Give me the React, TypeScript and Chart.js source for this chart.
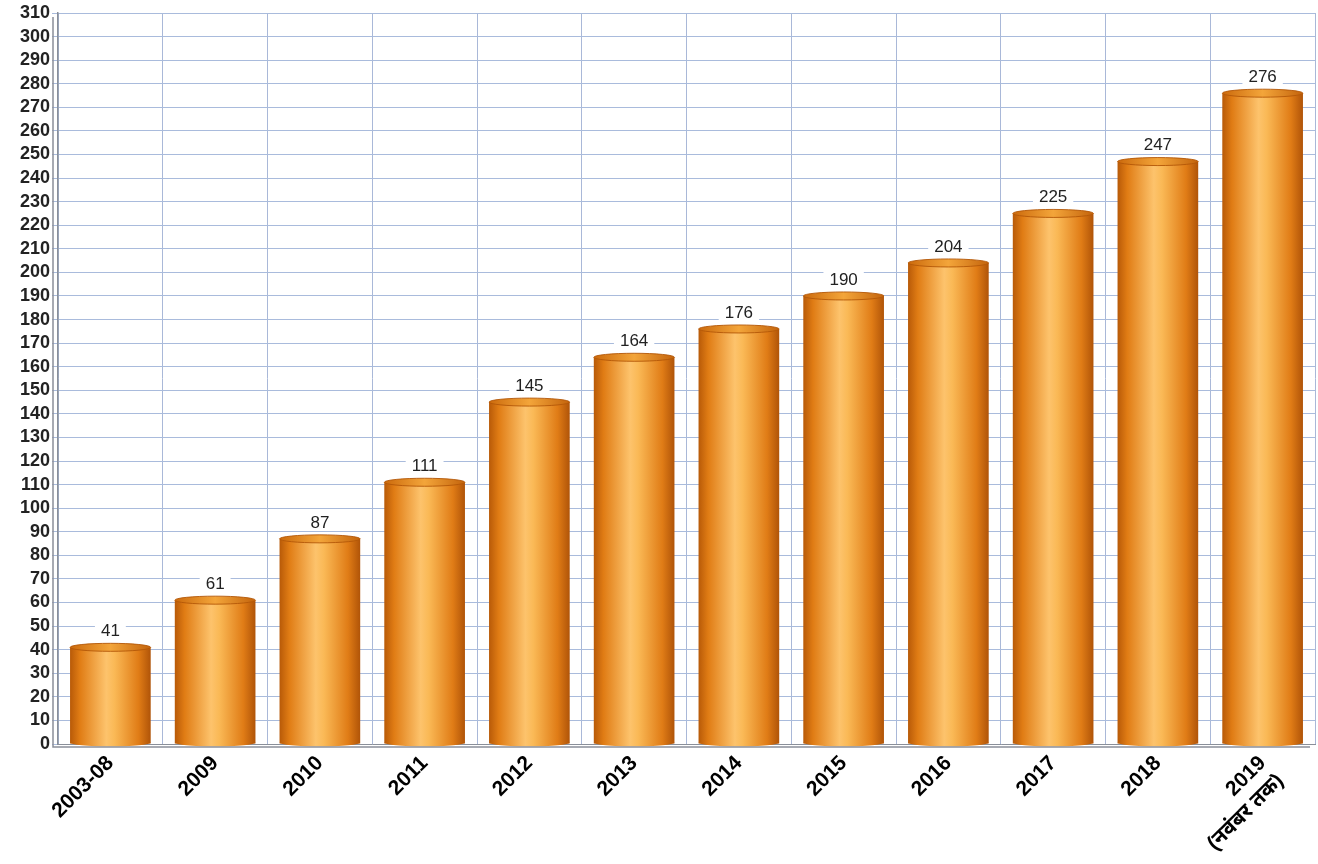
import React, { useEffect, useRef } from "react";
import { Chart, registerables } from "chart.js";

Chart.register(...registerables);

const categories: (string | string[])[] = [
  "2003-08", "2009", "2010", "2011", "2012", "2013", "2014", "2015", "2016", "2017", "2018", ["2019", "(नवंबर तक)"],
];
const values: number[] = [41, 61, 87, 111, 145, 164, 176, 190, 204, 225, 247, 276];
const yMax = 310;
const yStep = 10;

const FONT = "'Liberation Sans', Arial, 'Noto Sans', sans-serif";

function bodyGradient(ctx: CanvasRenderingContext2D, x0: number, w: number) {
  const g = ctx.createLinearGradient(x0, 0, x0 + w, 0);
  g.addColorStop(0, "#b85a08");
  g.addColorStop(0.12, "#e07c14");
  g.addColorStop(0.45, "#fdc36c");
  g.addColorStop(0.55, "#fab956");
  g.addColorStop(0.85, "#e07c16");
  g.addColorStop(1, "#b05408");
  return g;
}

const cylinderPlugin = {
  id: "cylinder",
  beforeDraw(chart: any) {
    const ctx = chart.ctx as CanvasRenderingContext2D;
    ctx.save();
    ctx.fillStyle = "#ffffff";
    ctx.fillRect(0, 0, chart.width, chart.height);
    ctx.restore();
  },
  beforeDatasetsDraw(chart: any) {
    const ctx = chart.ctx as CanvasRenderingContext2D;
    const meta = chart.getDatasetMeta(0);
    meta.data.forEach((el: any) => {
      el.options.backgroundColor = bodyGradient(ctx, el.x - el.width / 2, el.width);
    });
  },
  afterDatasetsDraw(chart: any) {
    const ctx = chart.ctx as CanvasRenderingContext2D;
    const meta = chart.getDatasetMeta(0);
    ctx.save();
    meta.data.forEach((el: any) => {
      const w = el.width;
      const x0 = el.x - w / 2;
      const ry = 4;
      ctx.fillStyle = bodyGradient(ctx, x0, w);
      ctx.beginPath();
      ctx.ellipse(el.x, el.base - 1, w / 2, ry, 0, 0, Math.PI);
      ctx.fill();
      const gt = ctx.createLinearGradient(x0, 0, x0 + w, 0);
      gt.addColorStop(0, "#cc6a0c");
      gt.addColorStop(0.5, "#f3a53a");
      gt.addColorStop(1, "#c4640c");
      ctx.fillStyle = gt;
      ctx.beginPath();
      ctx.ellipse(el.x, el.y, w / 2, ry, 0, 0, Math.PI * 2);
      ctx.fill();
      ctx.strokeStyle = "rgba(180,88,8,0.9)";
      ctx.lineWidth = 1;
      ctx.stroke();
    });
    ctx.font = `17px ${FONT}`;
    ctx.textAlign = "center";
    ctx.textBaseline = "middle";
    meta.data.forEach((el: any, i: number) => {
      const txt = String(values[i]);
      const tw = ctx.measureText(txt).width;
      const cy = el.y - 16;
      ctx.fillStyle = "#ffffff";
      ctx.fillRect(el.x - tw / 2 - 6, cy - 8, tw + 12, 16);
      ctx.fillStyle = "#222222";
      ctx.fillText(txt, el.x, cy);
    });
    ctx.restore();
  },
  afterDraw(chart: any) {
    const ctx = chart.ctx as CanvasRenderingContext2D;
    const a = chart.chartArea;
    ctx.save();
    ctx.strokeStyle = "#8a8f99";
    ctx.lineWidth = 1.5;
    ctx.beginPath();
    ctx.moveTo(a.left - 5, a.top + 4);
    ctx.lineTo(a.left - 5, a.bottom + 3);
    ctx.lineTo(a.right - 5, a.bottom + 3);
    ctx.stroke();
    ctx.restore();
  },
};

export default function App() {
  const ref = useRef<HTMLCanvasElement | null>(null);
  useEffect(() => {
    document.body.style.margin = "0";
    if (!ref.current) return;
    const chart = new Chart(ref.current, {
      type: "bar",
      data: {
        labels: categories,
        datasets: [
          {
            data: values,
            backgroundColor: () => "#e88a1e",
            borderWidth: 0,
            categoryPercentage: 1,
            barPercentage: 0.77,
          },
        ],
      },
      options: {
        animation: false,
        responsive: false,
        maintainAspectRatio: false,
        layout: { padding: { top: 13, right: 3, left: 0, bottom: 0 } },
        plugins: { legend: { display: false }, tooltip: { enabled: false } },
        scales: {
          x: {
            grid: { offset: true, color: "#a9b8d8", lineWidth: 1, drawTicks: false },
            border: { color: "#8a8f99", width: 1 },
            ticks: {
              color: "#000000",
              font: { family: FONT, size: 21, weight: "bold" },
              minRotation: 45,
              maxRotation: 45,
              padding: 7,
              autoSkip: false,
            },
            afterFit: (s: any) => {
              s.height = 120;
            },
          },
          y: {
            min: 0,
            max: yMax,
            grid: { color: "#a9bbdc", lineWidth: 1, tickLength: 6 },
            border: { color: "#8a8f99", width: 1.5 },
            ticks: {
              stepSize: yStep,
              color: "#222222",
              font: { family: FONT, size: 18, weight: "bold" },
              padding: 2,
              autoSkip: false,
            },
            afterFit: (s: any) => {
              s.width = 58;
            },
          },
        },
      },
      plugins: [cylinderPlugin],
    });
    return () => chart.destroy();
  }, []);
  return (
    <div style={{ width: 1318, height: 864 }}>
      <canvas ref={ref} width={1318} height={864} style={{ display: "block" }} />
    </div>
  );
}
